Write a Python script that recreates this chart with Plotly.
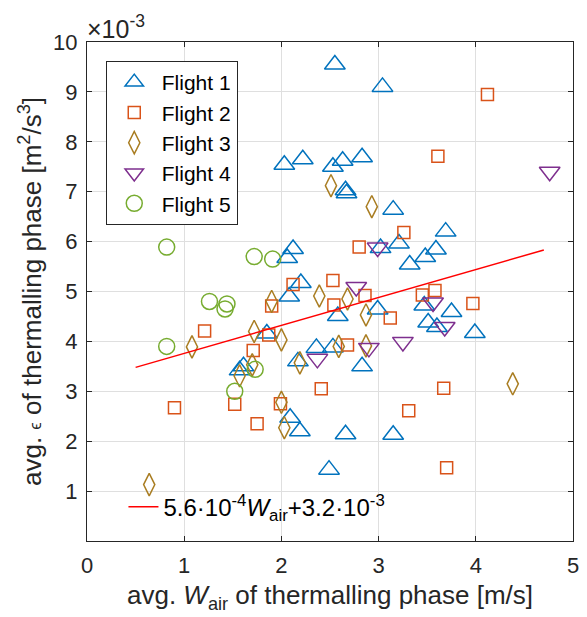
import numpy as np
import plotly.graph_objects as go

# Mean updraft speed W_air [m/s] and mean dissipation rate epsilon [1e-3 m^2/s^3]
# per thermalling phase, one pair of lists per flight.
f1_w = [2.55, 3.04, 2.03, 2.22, 2.53, 2.63, 2.83, 2.66, 2.67, 3.15, 3.69, 3.21, 3.02,
        3.59, 3.48, 3.32, 2.12, 2.06, 2.20, 2.08, 2.58, 2.99, 3.47, 3.75, 3.51, 3.60,
        3.99, 1.85, 2.36, 2.53, 2.17, 2.83, 1.61, 1.57, 2.09, 2.19, 2.66, 3.15, 2.49]
f1_eps = [9.55, 9.10, 7.54, 7.65, 7.50, 7.62, 7.69, 7.03, 6.97, 6.64, 6.20, 5.96, 5.87,
          5.84, 5.69, 5.54, 5.85, 5.67, 5.17, 4.90, 4.51, 4.64, 4.72, 4.59, 4.38, 4.29,
          4.17, 4.16, 3.87, 3.88, 3.60, 3.50, 3.50, 3.42, 2.47, 2.20, 2.14, 2.13, 1.43]

f2_w = [4.12, 3.61, 3.26, 2.80, 2.12, 2.53, 2.86, 1.90, 2.54, 3.45, 3.58, 3.97, 3.12,
        1.21, 1.87, 1.71, 2.68, 2.41, 3.67, 0.90, 1.52, 1.99, 1.75, 3.31, 3.70]
f2_eps = [8.95, 7.71, 6.18, 5.89, 5.14, 5.22, 4.92, 4.71, 4.73, 4.93, 5.02, 4.76, 4.47,
          4.21, 4.13, 3.82, 3.93, 3.05, 3.06, 2.67, 2.74, 2.75, 2.35, 2.61, 1.47]

f3_w = [2.51, 2.93, 1.90, 2.39, 2.68, 2.87, 1.72, 2.00, 1.08, 2.59, 2.87, 2.19, 1.70,
        1.57, 2.00, 2.03, 4.38, 0.64]
f3_eps = [7.12, 6.70, 4.80, 4.91, 4.85, 4.53, 4.20, 4.03, 3.89, 3.90, 3.91, 3.57, 3.53,
          3.31, 2.78, 2.27, 3.15, 1.13]

f4_w = [4.76, 2.99, 2.77, 3.56, 3.68, 2.90, 2.37, 3.25]
f4_eps = [7.40, 5.88, 5.09, 4.78, 4.29, 3.87, 3.65, 3.99]

f5_w = [0.82, 1.72, 1.91, 1.26, 1.44, 1.42, 0.82, 1.73, 1.52]
f5_eps = [5.89, 5.70, 5.65, 4.80, 4.75, 4.65, 3.90, 3.44, 3.00]

EPS_UNIT = 1e-3

# Linear fit eps = a * W_air + b
fit_a = 5.6e-4
fit_b = 3.2e-3
fit_w = [0.5, 4.7]

y_ticks = [1, 2, 3, 4, 5, 6, 7, 8, 9, 10]
x_ticks = [0, 1, 2, 3, 4, 5]

FONT = "Liberation Sans, Arial, sans-serif"
TXT = "#262626"

series = [
    ("Flight 1", f1_w, f1_eps, "triangle-up-open", 18, "#0072BD"),
    ("Flight 2", f2_w, f2_eps, "square-open", 12, "#D95319"),
    ("Flight 3", f3_w, f3_eps, "diamond-tall-open", 16, "#A97D22"),
    ("Flight 4", f4_w, f4_eps, "triangle-down-open", 18, "#7E2F8E"),
    ("Flight 5", f5_w, f5_eps, "circle-open", 16, "#77AC30"),
]

fig = go.Figure()
for name, w, eps, sym, size, col in series:
    fig.add_trace(go.Scatter(
        x=w, y=np.array(eps) * EPS_UNIT, mode="markers", name=name,
        marker=dict(symbol=sym, size=size, color=col, line=dict(color=col, width=1.5)),
        legend="legend",
    ))

fw = np.array(fit_w)
fig.add_trace(go.Scatter(
    x=fw, y=fit_a * fw + fit_b, mode="lines",
    name="5.6·10<sup>-4</sup><i>W</i><sub>air</sub>+3.2·10<sup>-3</sup>",
    line=dict(color="#FF0000", width=1.5),
    legend="legend2",
))

axis_common = dict(
    showline=True, linecolor=TXT, linewidth=1, mirror="ticks",
    ticks="inside", ticklen=5, tickcolor=TXT, tickwidth=1,
    showgrid=True, gridcolor="#DFDFDF", gridwidth=1, zeroline=False,
    tickfont=dict(family=FONT, size=22, color=TXT),
)

fig.update_layout(
    width=587, height=617,
    margin=dict(l=87, r=8, t=42, b=76),
    paper_bgcolor="white", plot_bgcolor="white",
    font=dict(family=FONT, color=TXT),
    xaxis=dict(
        range=[0, 5], tickvals=x_ticks, ticktext=[str(v) for v in x_ticks],
        title=dict(text="avg. <i>W</i><sub>air</sub> of thermalling phase [m/s]",
                   font=dict(family=FONT, size=26, color=TXT), standoff=8),
        ticklabelstandoff=5,
        **axis_common,
    ),
    yaxis=dict(
        range=[0, 10 * EPS_UNIT], tickvals=[v * EPS_UNIT for v in y_ticks],
        ticktext=[str(v) for v in y_ticks],
        title=dict(text="avg. <span style='font-size:17px'>ϵ</span> of thermalling phase [m<sup>2</sup>/s<sup>3</sup>]",
                   font=dict(family=FONT, size=26, color=TXT), standoff=4),
        ticklabelstandoff=4,
        **axis_common,
    ),
    legend=dict(
        x=0.0386, y=0.962, xanchor="left", yanchor="top",
        bgcolor="white", bordercolor=TXT, borderwidth=1,
        font=dict(family=FONT, size=21, color="black"),
        itemwidth=45,
    ),
    legend2=dict(
        x=0.075, y=0.068, xanchor="left", yanchor="middle",
        bgcolor="rgba(255,255,255,0)", borderwidth=0,
        font=dict(family=FONT, size=24, color="black"),
    ),
    annotations=[dict(
        x=0, y=1, xref="paper", yref="paper", xanchor="left", yanchor="bottom",
        text="×10<sup>-3</sup>", showarrow=False,
        font=dict(family=FONT, size=25, color=TXT), xshift=-2, yshift=-3,
    )],
)

fig.write_html("out.html")
